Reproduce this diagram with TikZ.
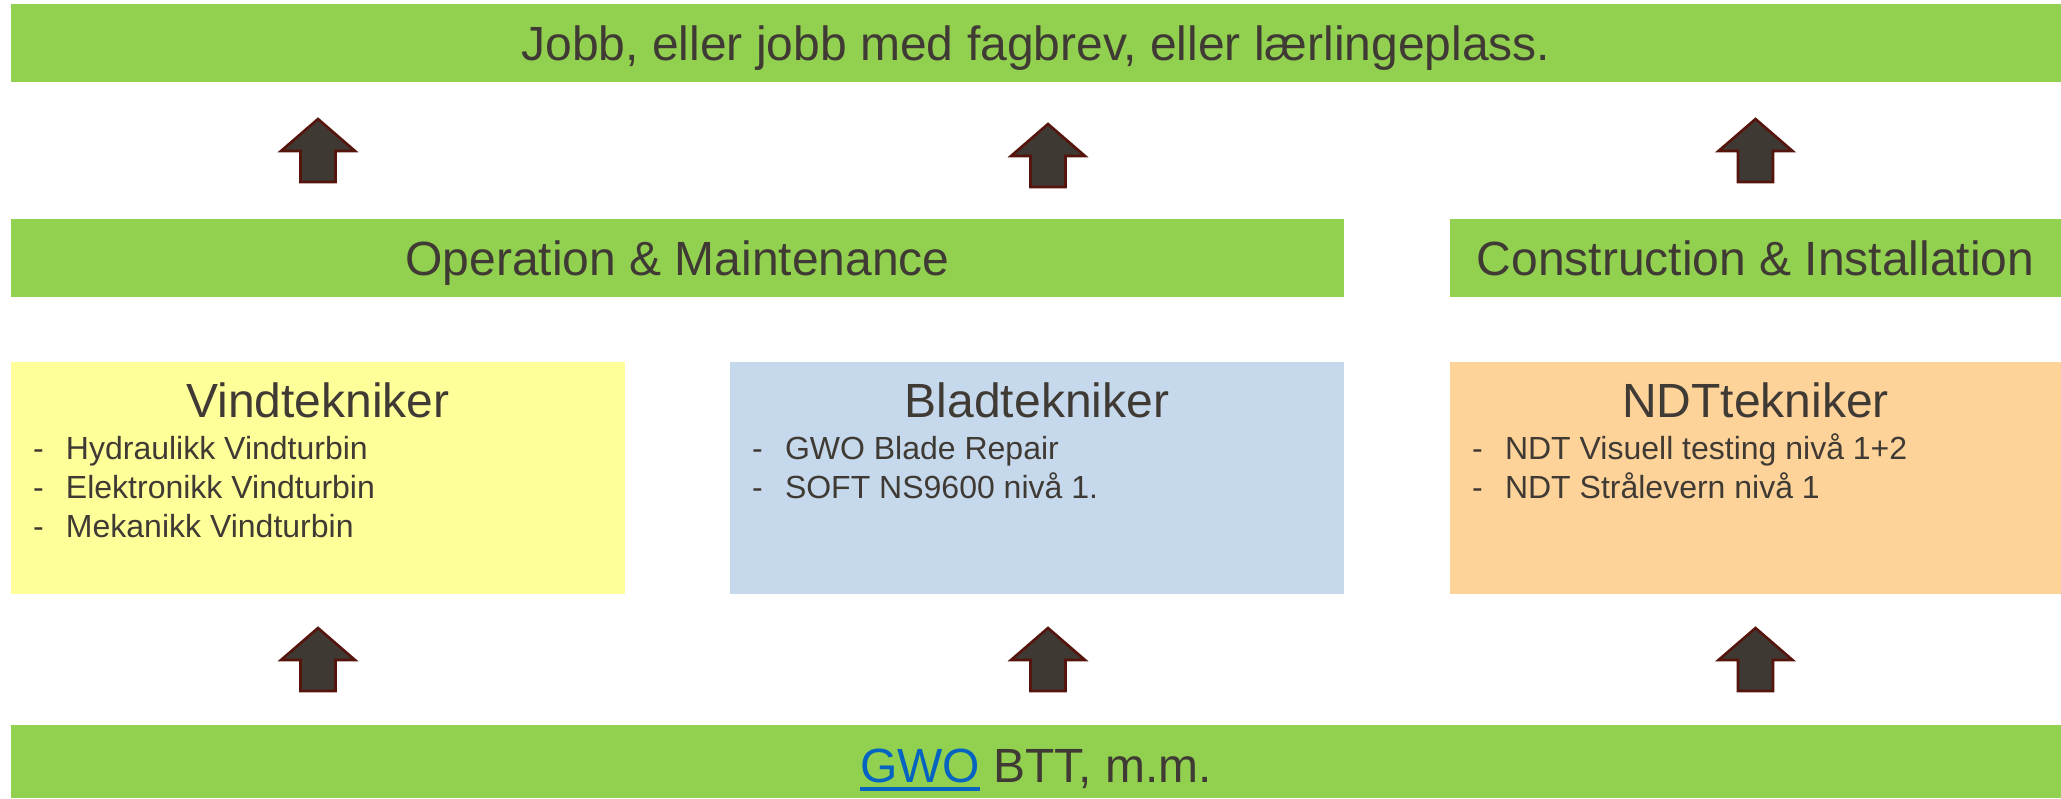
\documentclass[tikz,border=0pt]{standalone}
\usepackage{fontspec}
\setmainfont{Liberation Sans}
\usepackage{xcolor}
\usepackage{tikz}
\usetikzlibrary{positioning}
\usetikzlibrary{calc}

\definecolor{bargreen}{RGB}{146,208,80}
\definecolor{vindyellow}{RGB}{255,255,153}
\definecolor{bladblue}{RGB}{198,217,236}
\definecolor{ndtorange}{RGB}{253,211,154}
\definecolor{textgrey}{RGB}{64,58,52}
\definecolor{arrowfill}{RGB}{62,57,51}
\definecolor{arrowline}{RGB}{85,20,12}
\definecolor{linkblue}{RGB}{5,99,193}

\newcommand{\itemdash}{\makebox[16.5pt][l]{-}}
\newcommand{\linkword}[1]{\setbox0\hbox{#1}\rlap{\color{linkblue}\rule[-4.5pt]{\wd0}{1.8pt}}\textcolor{linkblue}{#1}}
\newcommand{\itemlist}[1]{\begin{tabular}[t]{@{}l@{}}#1\end{tabular}}

\tikzset{
  uparrow/.pic={
    \filldraw[fill=arrowfill, draw=arrowline, line width=1.3pt]
      (0,-31.5) -- (37,0.5) -- (17.5,0.5) -- (17.5,31.5) -- (-17.5,31.5)
      -- (-17.5,0.5) -- (-37,0.5) -- cycle;
  }
}

\begin{document}
\begin{tikzpicture}[x=0.5pt, y=-0.5pt,
  bar/.style={fill=bargreen, text=textgrey, inner sep=0pt, minimum height=39pt,
    font=\fontsize{24}{29}\selectfont, text height=18.5pt, text depth=1.5pt},
  box/.style={inner sep=0pt, minimum height=116pt},
  title/.style={text=textgrey, inner sep=0pt, font=\fontsize{24}{29}\selectfont, anchor=base},
  items/.style={text=textgrey, inner sep=0pt, font=\fontsize{16}{19.5}\selectfont, anchor=base west}]
\useasboundingbox (0,0) rectangle (2061,798);

\node[bar, minimum width=1025pt] (top) at (1036,43) {Jobb, eller jobb med fagbrev, eller lærlingeplass.};
\node[bar, minimum width=666.5pt] (om) at (677.5,258) {Operation \& Maintenance};
\node[bar, minimum width=305.5pt] (ci) at (1755.5,258) {Construction \& Installation};

\node[box, fill=vindyellow, minimum width=307pt] (vind) at (318,478) {};
\node[box, fill=bladblue, minimum width=307pt] (blad) at (1037,478) {};
\node[box, fill=ndtorange, minimum width=305.5pt] (ndt) at (1755.5,478) {};

\node[bar, minimum width=1025pt, minimum height=36.5pt, text height=21.5pt, text depth=1pt] (bot) at (1036,761.5) {\linkword{GWO} BTT, m.m.};

% titles and lists
\node[title] (vindtitle) at ($(vind.north)+(0,56)$) {Vindtekniker};
\node[title] (bladtitle) at ($(blad.north)+(0,56)$) {Bladtekniker};
\node[title] (ndttitle) at ($(ndt.north)+(0,56)$) {NDTtekniker};

\node[items] (vindlist) at ($(vind.north west)+(22,98)$) {\itemlist{\itemdash Hydraulikk Vindturbin\\\itemdash Elektronikk Vindturbin\\\itemdash Mekanikk Vindturbin}};
\node[items] (bladlist) at ($(blad.north west)+(22,98)$) {\itemlist{\itemdash GWO Blade Repair\\\itemdash SOFT NS9600 nivå 1.}};
\node[items] (ndtlist) at ($(ndt.north west)+(22,98)$) {\itemlist{\itemdash NDT Visuell testing nivå 1+2\\\itemdash NDT Strålevern nivå 1}};

% arrows
\pic at ($(vind.south)!0.5!(vind.south |- bot.north)$) {uparrow};
\pic at ($(blad.south)!0.5!(blad.south |- bot.north)+(11,0)$) {uparrow};
\pic at ($(ndt.south)!0.5!(ndt.south |- bot.north)$) {uparrow};

\pic at ($(vind |- om.north)!0.5!(vind |- top.south)$) {uparrow};
\pic at ($(blad |- om.north)!0.5!(blad |- top.south)+(11,5)$) {uparrow};
\pic at ($(ndt |- ci.north)!0.5!(ndt |- top.south)$) {uparrow};
\end{tikzpicture}
\end{document}
